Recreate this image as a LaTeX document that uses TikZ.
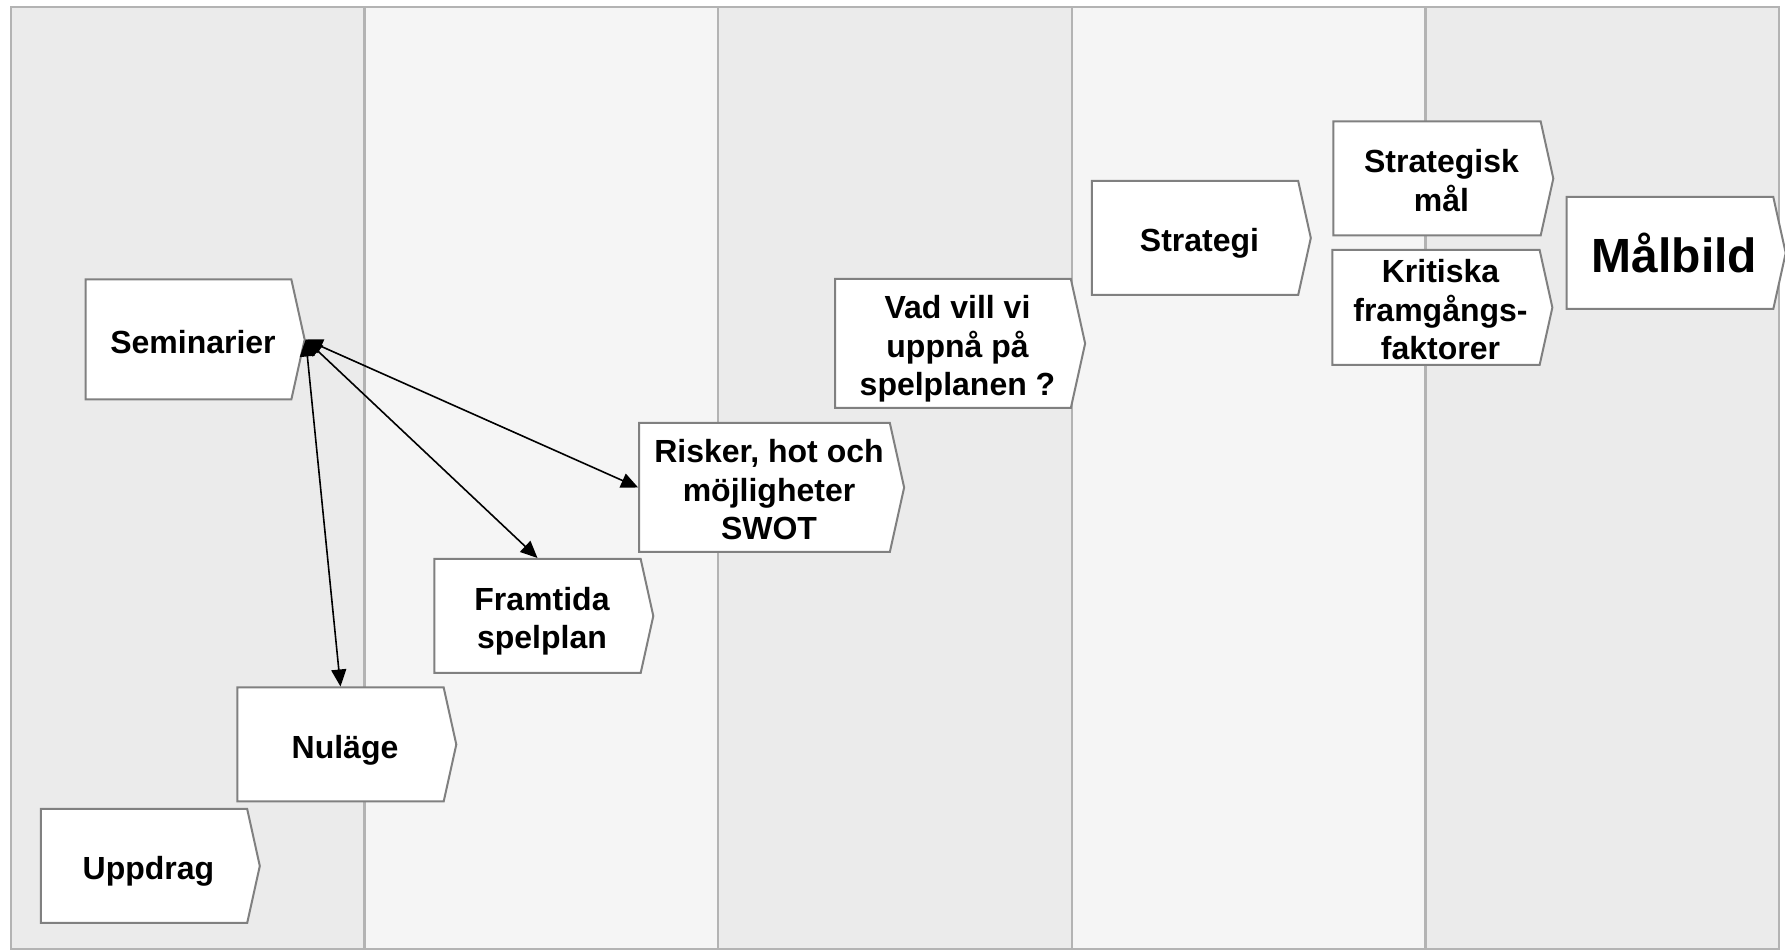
\documentclass[tikz,border=0pt]{standalone}
\usepackage{fontspec}
\setmainfont{Liberation Sans}
\usetikzlibrary{shapes.symbols,arrows.meta}
\definecolor{laneA}{HTML}{EBEBEB}
\definecolor{laneB}{HTML}{F5F5F5}
\definecolor{framegray}{HTML}{B3B3B3}
\definecolor{boxgray}{HTML}{808080}
\newcommand{\steptxt}[1]{\begin{tabular}[b]{@{\hspace{4.5pt}}c@{}}#1\end{tabular}}
\tikzset{
  chevron/.style={shape=signal, signal to=east, signal pointer angle=155,
    draw=boxgray, line width=1pt, fill=white, inner sep=2pt, text depth=0pt,
    minimum width=109.5pt, minimum height=57pt,
    font=\fontsize{16}{19.3}\selectfont\bfseries},
  link/.style={<->, >={Triangle[length=8.5pt,width=7.5pt]}, line width=0.8pt}
}
\begin{document}
\begin{tikzpicture}[x=0.5pt,y=-0.5pt]
  \useasboundingbox (0,0) rectangle (1785,951);
  \foreach \i/\c in {0/laneA,1/laneB,2/laneA,3/laneB,4/laneA}{
    \fill[\c] (11+353.6*\i,7) rectangle (364.6+353.6*\i,949);
  }
  \foreach \i in {1,2,3,4}{
    \draw[framegray, line width=1.2pt] (11+353.6*\i,7) -- (11+353.6*\i,949);
  }
  \draw[framegray, line width=1.2pt] (11,7) rectangle (1779,949);
  % steps
  \node[chevron] (upp) at (144,866) {\steptxt{Uppdrag}};
  \node[chevron] (nul) at (340.5,744.5) {\steptxt{Nuläge}};
  \node[chevron, minimum height=60pt] (sem) at (188.5,339.5) {\steptxt{Seminarier}};
  \node[chevron] (fra) at (537.5,616) {\steptxt{Framtida\\spelplan}};
  \node[chevron, minimum width=132.5pt, minimum height=64.5pt] (ris) at (764.5,487.5) {\steptxt{Risker, hot och\\möjligheter\\SWOT}};
  \node[chevron, minimum width=125pt, minimum height=64.5pt] (vad) at (953,343.5) {\steptxt{Vad vill vi\\uppnå på\\spelplanen ?}};
  \node[chevron] (str) at (1195,238) {\steptxt{Strategi}};
  \node[chevron, minimum width=110pt] (mal) at (1437,178.5) {\steptxt{Strategisk\\mål}};
  \node[chevron, minimum width=110pt, minimum height=57.5pt] (kri) at (1436,307.5) {\steptxt{Kritiska\\framgångs-\\faktorer}};
  \node[chevron, minimum height=56pt, font=\fontsize{24}{25}\selectfont\bfseries] (bild) at (1670,253) {\steptxt{Målbild}};
  % links
  \draw[link] (sem.east) -- (nul.north);
  \draw[link] (sem.east) -- (fra.north);
  \draw[link] (sem.east) -- (ris.west);
\end{tikzpicture}
\end{document}
